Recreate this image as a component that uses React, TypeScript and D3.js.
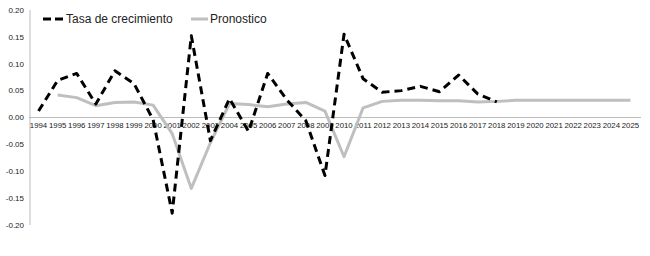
import * as d3 from 'd3'
import { type ReactElement } from 'react'

const years = d3.range(1994, 2026).map(String)
const tasaYears = d3.range(1994, 2019).map(String)
const tasa = [
  0.012, 0.069, 0.082, 0.025, 0.087, 0.063, -0.004, -0.178, 0.152, -0.043, 0.035, -0.026, 0.082,
  0.033, -0.006, -0.108, 0.155, 0.072, 0.047, 0.05, 0.058, 0.048, 0.079, 0.044, 0.029,
]
const pronYears = d3.range(1995, 2026).map(String)
const pronostico = [
  0.042, 0.037, 0.022, 0.028, 0.029, 0.023, -0.03, -0.132, -0.047, 0.026, 0.024, 0.02, 0.025, 0.028,
  0.012, -0.073, 0.018, 0.03, 0.032, 0.032, 0.031, 0.031, 0.029, 0.03, 0.032, 0.032, 0.032, 0.032,
  0.032, 0.032, 0.032,
]
const yTicks = [0.2, 0.15, 0.1, 0.05, 0, -0.05, -0.1, -0.15, -0.2]

const width = 650
const height = 256
const font = '"Liberation Sans", Arial, Helvetica, sans-serif'

type Pt = { year: string; value: number }

export default function App(): ReactElement {
  const x = d3.scaleBand<string>().domain(years).range([29, 640])
  const cx = (y: string) => (x(y) ?? 0) + x.bandwidth() / 2
  const yScale = d3.scaleLinear().domain([-0.2, 0.2]).range([225, 10])

  const line = d3
    .line<Pt>()
    .x((d) => cx(d.year))
    .y((d) => yScale(d.value))

  const tasaPts = tasaYears.map((year, i) => ({ year, value: tasa[i] }))
  const pronPts = pronYears.map((year, i) => ({ year, value: pronostico[i] }))
  const y0 = yScale(0)

  return (
    <svg
      width={width}
      height={height}
      style={{ position: 'absolute', left: 0, top: 0, background: '#fff' }}
      fontFamily={font}
    >
      {/* axes */}
      <line x1={30} x2={30} y1={yScale(0.2)} y2={yScale(-0.2)} stroke="#bcbcbc" strokeWidth={1} />
      <line x1={29} x2={641} y1={y0} y2={y0} stroke="#bcbcbc" strokeWidth={1} />
      {yTicks.map((t) => (
        <text
          key={t}
          x={24}
          y={yScale(t)}
          dy="0.35em"
          textAnchor="end"
          fontSize={8}
          fill="#222"
        >
          {t.toFixed(2)}
        </text>
      ))}
      {years.map((yr) => (
        <text key={yr} x={cx(yr)} y={y0 + 8} dy="0.35em" textAnchor="middle" fontSize={7.8} fill="#222">
          {yr}
        </text>
      ))}

      {/* series */}
      <path
        d={line(pronPts) ?? ''}
        fill="none"
        stroke="#bfbfbf"
        strokeWidth={3}
        strokeLinejoin="round"
      />
      <path
        d={line(tasaPts) ?? ''}
        fill="none"
        stroke="#000"
        strokeWidth={3}
        strokeDasharray="8 5"
        strokeLinejoin="round"
      />

      {/* legend */}
      <line x1={43} x2={63} y1={19} y2={19} stroke="#000" strokeWidth={3} strokeDasharray="8 4" />
      <text x={66} y={19} dy="0.35em" fontSize={12} fill="#222">
        Tasa de crecimiento
      </text>
      <line x1={191} x2={208} y1={19} y2={19} stroke="#bfbfbf" strokeWidth={3} />
      <text x={210} y={19} dy="0.35em" fontSize={12} fill="#222">
        Pronostico
      </text>
    </svg>
  )
}
